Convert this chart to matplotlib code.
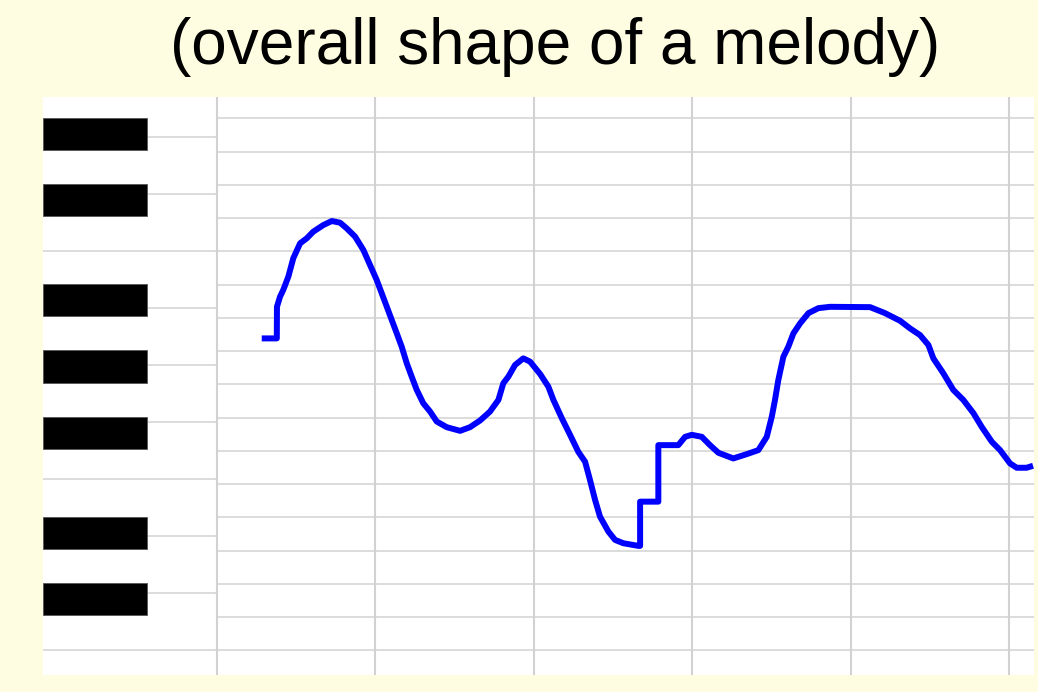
import matplotlib
matplotlib.use("Agg")
import matplotlib.pyplot as plt
from matplotlib.patches import Rectangle

# ---- data ----
title = "(overall shape of a melody)"

# melody contour: time (grid units) and pitch (semitones above lowest C)
time = [0.284, 0.379, 0.380, 0.399, 0.420, 0.452, 0.483, 0.526, 0.568, 0.609,
        0.673, 0.726, 0.778, 0.820, 0.873, 0.925, 0.967, 1.009, 1.073, 1.136,
        1.167, 1.199, 1.230, 1.262, 1.303, 1.346, 1.388, 1.451, 1.535, 1.598,
        1.661, 1.724, 1.777, 1.808, 1.840, 1.882, 1.934, 1.977, 2.040, 2.092,
        2.124, 2.177, 2.229, 2.281, 2.324, 2.355, 2.387, 2.418, 2.471, 2.513,
        2.565, 2.660, 2.671, 2.671, 2.786, 2.786, 2.912, 2.955, 2.997, 3.060,
        3.112, 3.165, 3.259, 3.344, 3.417, 3.470, 3.502, 3.522, 3.543, 3.575,
        3.606, 3.638, 3.680, 3.733, 3.796, 3.869, 4.122, 4.216, 4.311, 4.374,
        4.437, 4.490, 4.521, 4.584, 4.647, 4.710, 4.774, 4.826, 4.890, 4.942,
        5.005, 5.047, 5.110, 5.150]
pitch = [8.88, 8.88, 9.83, 10.13, 10.34, 10.74, 11.29, 11.74, 11.89, 12.09,
         12.29, 12.41, 12.36, 12.19, 11.94, 11.54, 11.09, 10.64, 9.83, 9.03,
         8.63, 8.13, 7.73, 7.33, 6.93, 6.68, 6.38, 6.21, 6.10, 6.21,
         6.41, 6.68, 7.03, 7.53, 7.73, 8.08, 8.28, 8.18, 7.81, 7.43,
         7.03, 6.48, 5.98, 5.47, 5.17, 4.62, 4.02, 3.52, 3.07, 2.82,
         2.72, 2.64, 2.64, 3.97, 3.97, 5.67, 5.67, 5.92, 5.98, 5.92,
         5.67, 5.44, 5.27, 5.40, 5.52, 5.92, 6.53, 7.03, 7.63, 8.33,
         8.63, 9.03, 9.33, 9.64, 9.79, 9.83, 9.82, 9.64, 9.41, 9.18,
         8.98, 8.68, 8.28, 7.83, 7.33, 7.03, 6.63, 6.22, 5.77, 5.52,
         5.12, 4.99, 4.99, 5.05]

black_keys = [1, 3, 6, 8, 10, 13, 15]          # sharps (pitch rows)
semitone_rows = list(range(0, 16))               # rows 0..15
beats = [0, 1, 2, 3, 4, 5]                       # vertical grid

# ---- figure ----
bg = "#FFFDE1"
fig = plt.figure(figsize=(10.38, 6.92), dpi=100, facecolor=bg)
ax = fig.add_axes([43/1038, 1-675/692, (1034-43)/1038, (675-97)/692])
ax.set_facecolor("white")
for s in ax.spines.values():
    s.set_visible(False)
ax.set_xticks([]); ax.set_yticks([])

x_left, x_right = -1.096, 5.156
ax.set_xlim(x_left, x_right)
ax.set_ylim(-1.243, 16.14)

grid_h = "#dcdcdc"
grid_v = "#d2d2d2"

# semitone boundaries in the roll area
for r in semitone_rows + [16]:
    ax.plot([0, x_right], [r - 0.5, r - 0.5], color=grid_h, lw=1.4, zorder=1,
            solid_capstyle="butt")

# white-key boundaries in the keyboard area
wk = 12 / 7
b = 11.5 + 2 * wk
while b > -1.2:
    if b < 16.1:
        ax.plot([x_left, 0], [b, b], color=grid_h, lw=1.4, zorder=1,
                solid_capstyle="butt")
    b -= wk

# vertical beat lines
for bt in beats:
    ax.axvline(bt, color=grid_v, lw=1.5, zorder=1)

# black keys
for p in black_keys:
    ax.add_patch(Rectangle((x_left, p - 0.5 + 0.05), -0.440 - x_left, 0.97,
                           facecolor="black", edgecolor="#555555", lw=0.6,
                           zorder=3))

# melody
ax.plot(time, pitch, color="#0000FF", lw=4.3, solid_joinstyle="round",
        solid_capstyle="butt", zorder=4)

fig.text(555/1038, 1 - 47/692, title, ha="center", va="center",
         fontsize=46, family="Liberation Sans", color="black")

fig.savefig("out.png", dpi=100, facecolor=bg)
